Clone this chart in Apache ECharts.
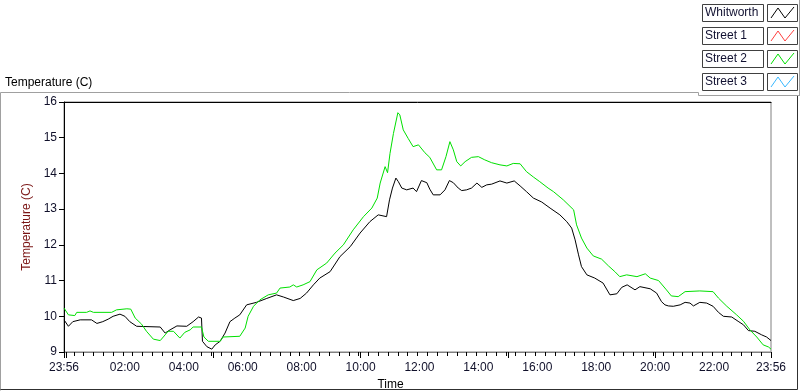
<!DOCTYPE html>
<html>
<head>
<meta charset="utf-8">
<script src="https://cdn.jsdelivr.net/npm/echarts@6/dist/echarts.min.js"></script>
<style>
	html, body { margin: 0; padding: 0; background: #fff; }
	#chart { width: 800px; height: 392px; }
</style>
</head>
<body>
<div id="chart"></div>
<script>
	// time = minutes after midnight, the log starts at 23:56 the day before (-4)
	var whitTime = [-4,5,14,29,52,63,75,86,96,110,120,130,144,192,202,212,226,246,259,270,
		276,278,287,297,304,314,324,334,344,354,368,388,409,429,443,463,477,490,504,517,
		538,558,579,599,619,636,653,659,665,672,677,684,694,707,714,724,735,741,748,762,
		772,781,789,799,806,816,826,837,847,857,867,884,898,913,925,938,952,969,986,1006,
		1020,1030,1037,1044,1050,1061,1077,1094,1108,1122,1132,1143,1159,1169,1190,1203,1213,1220,1227,1237,
		1251,1261,1271,1278,1291,1305,1318,1329,1339,1356,1369,1380,1390,1403,1417,1427,1436];
	var whitworth = [9.9,9.72,9.85,9.9,9.9,9.8,9.85,9.92,10.0,10.06,10.0,9.85,9.72,9.7,9.53,9.62,9.73,9.72,9.85,9.98,
		9.95,9.3,9.15,9.08,9.2,9.3,9.53,9.85,9.95,10.04,10.32,10.39,10.5,10.6,10.54,10.44,10.5,10.65,10.88,11.07,
		11.25,11.67,11.95,12.33,12.65,12.84,12.79,13.26,13.59,13.87,13.77,13.59,13.54,13.59,13.49,13.8,13.74,13.56,13.4,13.4,
		13.54,13.8,13.74,13.59,13.52,13.54,13.59,13.73,13.61,13.68,13.7,13.79,13.73,13.79,13.65,13.49,13.31,13.2,13.03,12.84,
		12.65,12.47,12.14,11.72,11.39,11.16,11.07,10.93,10.6,10.63,10.81,10.88,10.74,10.83,10.77,10.65,10.41,10.32,10.29,10.28,
		10.32,10.39,10.37,10.29,10.39,10.37,10.28,10.11,10.0,9.98,9.86,9.76,9.6,9.58,9.48,9.42,9.32];

	var street2Time = [-4,5,18,22,42,49,56,93,103,124,132,141,154,164,178,192,202,208,219,232,
		242,253,259,276,281,290,314,320,354,365,371,382,395,412,429,436,456,463,470,483,
		497,511,531,548,565,585,606,623,634,640,650,655,660,667,676,680,687,697,707,718,
		731,741,755,765,774,782,789,796,804,813,826,840,853,867,884,898,911,925,938,952,
		965,982,993,1013,1034,1040,1050,1061,1074,1091,1105,1118,1128,1142,1163,1180,1190,1207,1223,1233,
		1247,1261,1291,1318,1329,1346,1366,1380,1393,1407,1420,1431,1436];
	var street2 = [10.23,10.04,10.02,10.11,10.11,10.15,10.11,10.11,10.18,10.21,10.2,9.95,9.78,9.58,9.36,9.32,9.48,9.58,9.58,9.39,
		9.55,9.62,9.7,9.7,9.42,9.3,9.3,9.42,9.44,9.67,10.0,10.28,10.46,10.6,10.65,10.79,10.82,10.88,10.82,10.88,
		10.97,11.3,11.49,11.77,12.0,12.42,12.79,13.03,13.31,13.73,14.19,14.02,14.56,15.12,15.7,15.64,15.22,14.98,14.75,14.8,
		14.58,14.45,14.1,14.1,14.47,14.89,14.66,14.33,14.21,14.33,14.45,14.47,14.38,14.3,14.24,14.21,14.28,14.27,14.05,13.9,
		13.77,13.59,13.49,13.26,12.98,12.56,12.19,11.91,11.69,11.6,11.41,11.25,11.11,11.16,11.11,11.19,11.07,11.0,10.74,10.57,
		10.55,10.69,10.71,10.69,10.51,10.28,10.04,9.86,9.62,9.42,9.2,9.14,9.08];

	// no samples for these two, they only show up in the legend
	var street1 = [];
	var street3 = [];

	var seriesNames = ['Whitworth', 'Street 1', 'Street 2', 'Street 3'];
	var seriesColors = ['#000000', '#ff4040', '#00e000', '#38b8ff'];

	var xLabelTimes = [-4, 120, 240, 360, 480, 600, 720, 840, 960, 1080, 1200, 1320, 1436];

	function pairs(t, v) {
		var out = [];
		for (var i = 0; i < v.length; i++) out.push([t[i], v[i]]);
		return out;
	}
	function hhmm(v) {
		var m = ((Math.round(v) % 1440) + 1440) % 1440;
		var h = Math.floor(m / 60), mm = m % 60;
		return (h < 10 ? '0' : '') + h + ':' + (mm < 10 ? '0' : '') + mm;
	}

	var font = 'Liberation Sans';

	// legend boxes drawn LabVIEW style
	var legendGraphics = [];
	for (var i = 0; i < seriesNames.length; i++) {
		var y0 = 4 + i * 23;
		legendGraphics.push({
			type: 'rect', shape: { x: 702.5, y: y0 + 0.5, width: 61, height: 17 },
			style: { fill: '#fff', stroke: '#404040', lineWidth: 1 }, silent: true
		});
		legendGraphics.push({
			type: 'text', x: 705, y: y0 + 9,
			style: { text: seriesNames[i], font: '12px ' + font, fill: '#101030', verticalAlign: 'middle' }, silent: true
		});
		legendGraphics.push({
			type: 'rect', shape: { x: 767.5, y: y0 + 0.5, width: 30, height: 17 },
			style: { fill: '#fff', stroke: '#404040', lineWidth: 1 }, silent: true
		});
		legendGraphics.push({
			type: 'polyline', shape: { points: [[771, y0 + 14], [778, y0 + 4], [785, y0 + 14], [794, y0 + 3]] },
			style: { stroke: seriesColors[i], fill: null, lineWidth: 1 }, silent: true
		});
	}

	var chart = echarts.init(document.getElementById('chart'), null, { renderer: 'canvas' });
	chart.setOption({
		animation: false,
		backgroundColor: '#fff',
		grid: {
			left: 64, top: 102, width: 707, height: 250, outerBoundsMode: 'none', containLabel: false,
			show: true, borderColor: '#808080', borderWidth: 1, backgroundColor: '#fff'
		},
		graphic: [
			// outer panel frame
			{ type: 'polyline', shape: { points: [[0.5, 390.5], [0.5, 92.5], [698.5, 92.5]] }, style: { stroke: '#a0a0a0', fill: null, lineWidth: 1 }, silent: true },
			{ type: 'polyline', shape: { points: [[0.5, 389.5], [797.5, 389.5], [797.5, 96]] }, style: { stroke: '#303030', fill: null, lineWidth: 1 }, silent: true },
			{ type: 'polyline', shape: { points: [[698.5, 92.5], [698.5, 95.5], [799.5, 95.5]] }, style: { stroke: '#a0a0a0', fill: null, lineWidth: 1 }, silent: true },
			{ type: 'line', shape: { x1: 799.5, y1: 0, x2: 799.5, y2: 96 }, style: { stroke: '#a0a0a0', lineWidth: 1 }, silent: true },
			{ type: 'text', x: 5, y: 83, style: { text: 'Temperature (C)', font: '12px ' + font, fill: '#000', verticalAlign: 'middle' }, silent: true }
		].concat(legendGraphics),
		xAxis: [{
			// labels and the long ticks under them
			type: 'value', min: -4, max: 1436, position: 'bottom',
			name: 'Time', nameLocation: 'middle', nameGap: 25,
			nameTextStyle: { color: '#000', fontFamily: font, fontSize: 12, padding: [0, 54, 0, 0] },
			axisLine: { show: true, onZero: false, lineStyle: { color: '#808080' } },
			axisTick: { show: true, length: 6, lineStyle: { color: '#000' } },
			axisLabel: { customValues: xLabelTimes, formatter: hhmm, color: '#10102a', fontFamily: font, fontSize: 12, margin: 10 },
			splitLine: { show: false }
		}, {
			// short ticks every 20 minutes (first tick sits on min, the rest on multiples of 20)
			type: 'value', min: -4, max: 1436, interval: 20, position: 'bottom', offset: 0,
			axisLine: { show: false, onZero: false },
			axisTick: { show: true, length: 4, lineStyle: { color: '#000' } },
			axisLabel: { show: false },
			splitLine: { show: false }
		}, {
			type: 'value', min: -4, max: 1436, position: 'top',
			axisLine: { show: true, onZero: false, lineStyle: { color: '#000' } },
			axisTick: { show: false }, axisLabel: { show: false }, splitLine: { show: false }
		}],
		yAxis: {
			type: 'value', min: 9, max: 16, interval: 1,
			name: 'Temperature (C)', nameLocation: 'middle', nameGap: 21, nameRotate: 90,
			nameTextStyle: { color: '#7a1414', fontFamily: font, fontSize: 12 },
			axisLine: { show: true, onZero: false, lineStyle: { color: '#000' } },
			axisTick: { show: true, length: 5, lineStyle: { color: '#000' } },
			axisLabel: { color: '#10102a', fontFamily: font, fontSize: 12, margin: 7 },
			splitLine: { show: false }
		},
		series: [
			{ name: seriesNames[0], type: 'line', data: pairs(whitTime, whitworth), showSymbol: false, lineStyle: { color: seriesColors[0], width: 1 }, itemStyle: { color: seriesColors[0] } },
			{ name: seriesNames[1], type: 'line', data: street1, showSymbol: false, lineStyle: { color: seriesColors[1], width: 1 } },
			{ name: seriesNames[2], type: 'line', data: pairs(street2Time, street2), showSymbol: false, lineStyle: { color: seriesColors[2], width: 1 }, itemStyle: { color: seriesColors[2] } },
			{ name: seriesNames[3], type: 'line', data: street3, showSymbol: false, lineStyle: { color: seriesColors[3], width: 1 } }
		]
	});
</script>
</body>
</html>
